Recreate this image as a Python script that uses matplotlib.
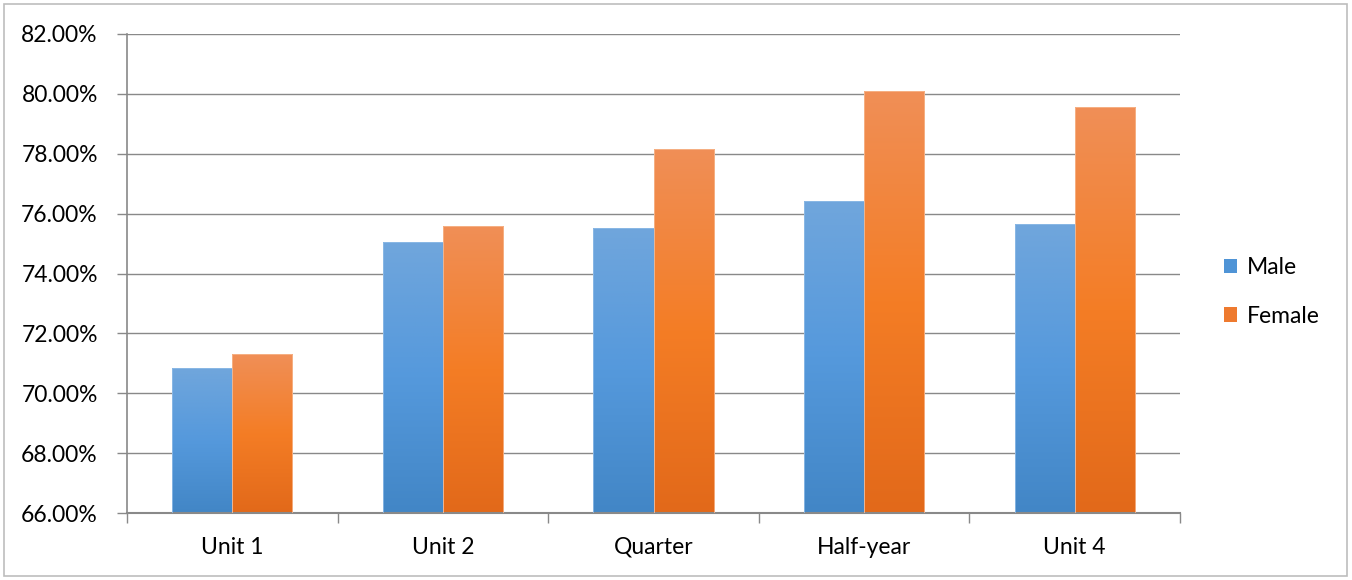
import numpy as np
import matplotlib.pyplot as plt
from matplotlib.colors import LinearSegmentedColormap
from matplotlib.patches import Rectangle
from matplotlib.ticker import FuncFormatter

# data
categories = ['Unit 1', 'Unit 2', 'Quarter', 'Half-year', 'Unit 4']
male = [70.83, 75.05, 75.52, 76.42, 75.65]
female = [71.30, 75.59, 78.16, 80.10, 79.56]

plt.rcParams['font.family'] = ['Lato', 'DejaVu Sans']

blue_cmap = LinearSegmentedColormap.from_list('b', ['#4286c6', '#5599dc', '#70a6dc'])
orange_cmap = LinearSegmentedColormap.from_list('o', ['#e2691a', '#f47d25', '#f08f57'])

fig = plt.figure(figsize=(13.52, 5.8), dpi=100)
ax = fig.add_axes([127/1352, 67/580, (1180-127)/1352, (513-34)/580])

ymin, ymax = 66, 82
w = 0.285
x = np.arange(len(categories))
grad = np.linspace(0, 1, 256).reshape(-1, 1)
fs = 16.5


def gradient_bars(xs, vals, cmap, edge):
    bars = ax.bar(xs, np.array(vals) - ymin, w, bottom=ymin, color='none',
                  edgecolor=edge, linewidth=0.6, zorder=3)
    for b in bars:
        x0, y0 = b.get_x(), b.get_y()
        im = ax.imshow(grad, cmap=cmap, origin='lower', aspect='auto',
                       extent=[x0, x0 + b.get_width(), y0, y0 + b.get_height()],
                       zorder=2)
        im.set_clip_path(b)
    return bars


gradient_bars(x - w/2, male, blue_cmap, '#8fbbe6')
gradient_bars(x + w/2, female, orange_cmap, '#f7b68c')

ax.set_xlim(-0.5, len(categories) - 0.5)
ax.set_ylim(ymin, ymax)
ax.set_yticks(np.arange(ymin, ymax + 0.1, 2))
ax.yaxis.set_major_formatter(FuncFormatter(lambda v, p: '%.2f%%' % v))
ax.grid(axis='y', color='#898989', linewidth=1.0, zorder=0)
ax.set_axisbelow(True)

ax.set_xticks(x)
ax.set_xticklabels(categories)
ax.set_xticks(np.arange(-0.5, len(categories)), minor=True)
ax.tick_params(axis='x', which='major', length=0, pad=17, labelsize=fs)
ax.tick_params(axis='x', which='minor', length=7, color='#898989', width=1)
ax.tick_params(axis='y', length=7, color='#898989', width=1, labelsize=fs, pad=14)

for s in ['top', 'right']:
    ax.spines[s].set_visible(False)
for s in ['left', 'bottom']:
    ax.spines[s].set_color('#898989')
ax.spines['left'].set_linewidth(1.2)
ax.spines['bottom'].set_linewidth(1.5)

handles = [Rectangle((0, 0), 1, 1, facecolor='#4f94d6', edgecolor='none'),
           Rectangle((0, 0), 1, 1, facecolor='#ee7a2f', edgecolor='none')]
fig.legend(handles, ['Male', 'Female'], loc='center left',
           bbox_to_anchor=(1203/1352, 1 - 292/580), frameon=False,
           fontsize=fs, handlelength=0.6, handleheight=0.6,
           handletextpad=0.4, labelspacing=1.2)

fig.patches.append(Rectangle((4/1352, 4/580), 1343/1352, 572/580, transform=fig.transFigure,
                             fill=False, edgecolor='#bdbdbd', linewidth=1.2))

plt.savefig('out.png', dpi=100)
